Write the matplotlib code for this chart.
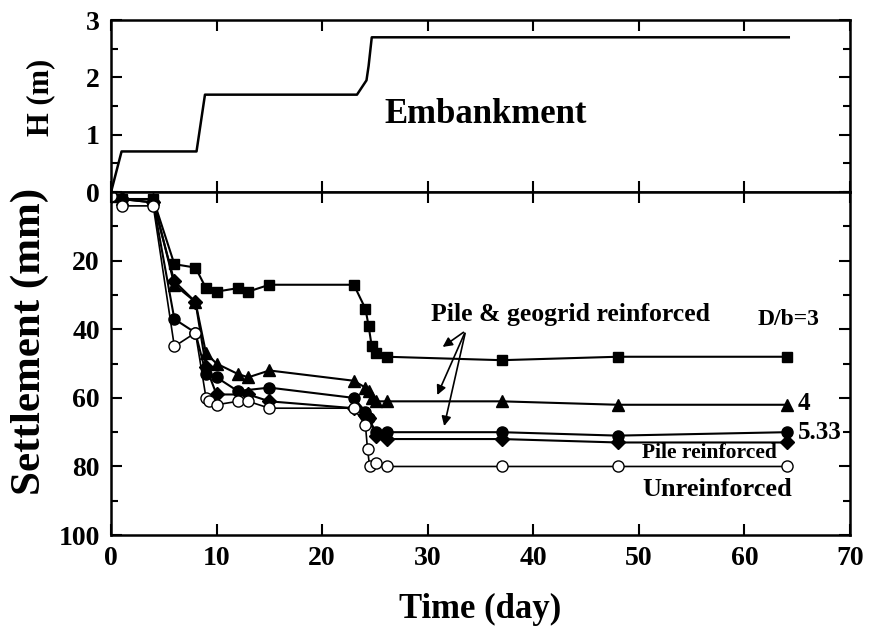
import numpy as np
import matplotlib.pyplot as plt
from matplotlib.ticker import MultipleLocator

plt.rcParams['font.family'] = ['Liberation Serif', 'DejaVu Serif']
plt.rcParams['font.weight'] = 'bold'

# embankment height
t_h = [0, 1, 8.1, 8.9, 23.3, 24.2, 24.4, 24.7, 64.2]
h = [0, 0.71, 0.71, 1.7, 1.7, 1.95, 2.2, 2.7, 2.7]

# settlement, D/b = 3 (squares)
t_sq = [0, 1, 4, 6, 8, 9, 10, 12, 13, 15, 23, 24.1, 24.4, 24.7, 25.1, 26.1, 37, 48, 64]
s_sq = [1, 2, 2, 21, 22, 28, 29, 28, 29, 27, 27, 34, 39, 45, 47, 48, 49, 48, 48]

# D/b = 4 (triangles)
t_tr = [0, 1, 4, 6, 8, 9, 10, 12, 13, 15, 23, 24.1, 24.4, 24.7, 25.1, 26.1, 37, 48, 64]
s_tr = [1, 2, 2, 27, 32, 47, 50, 53, 54, 52, 55, 57, 58, 60, 61, 61, 61, 62, 62]

# D/b = 5.33 (filled circles)
t_ci = [0, 1, 4, 6, 8, 9, 10, 12, 15, 23, 24.1, 24.4, 25.1, 26.1, 37, 48, 64]
s_ci = [1, 2, 3, 37, 41, 53, 54, 58, 57, 60, 64, 66, 70, 70, 70, 71, 70]

# pile reinforced (diamonds)
t_di = [0, 1, 4, 6, 8, 9, 10, 13, 15, 23, 24.1, 24.4, 25.1, 26.1, 37, 48, 64]
s_di = [1, 2, 3, 26, 32, 51, 59, 59, 61, 63, 65, 66, 71, 72, 72, 73, 73]

# unreinforced (open circles)
t_un = [0, 1, 4, 6, 8, 9, 9.3, 10, 12, 13, 15, 23, 24.1, 24.3, 24.5, 25.1, 26.1, 37, 48, 64]
s_un = [1, 4, 4, 45, 41, 60, 61, 62, 61, 61, 63, 63, 68, 75, 80, 79, 80, 80, 80, 80]

fig = plt.figure(figsize=(8.7, 6.28), dpi=100)
ax1 = fig.add_axes([0.1276, 0.694, 0.8494, 0.274])
ax2 = fig.add_axes([0.1276, 0.148, 0.8494, 0.546])

# top panel
ax1.plot(t_h, h, color='black', lw=1.8)
ax1.set_xlim(0, 70)
ax1.set_ylim(0, 3)
ax1.set_yticks([0, 1, 2, 3])
ax1.yaxis.set_minor_locator(MultipleLocator(0.5))
ax1.xaxis.set_major_locator(MultipleLocator(10))
ax1.set_xticklabels([])
ax1.set_ylabel('H (m)', fontsize=22, fontweight='bold')
ax1.yaxis.set_label_coords(-0.076, 0.55)
ax1.text(35.5, 1.35, 'Embankment', fontsize=25, fontweight='bold', ha='center', va='center')

# bottom panel
ax2.plot(t_sq, s_sq, 's-', color='black', ms=7, lw=1.5)
ax2.plot(t_tr, s_tr, '^-', color='black', ms=8, lw=1.5)
ax2.plot(t_ci, s_ci, 'o-', color='black', ms=8, lw=1.5)
ax2.plot(t_di, s_di, 'D-', color='black', ms=7, lw=1.5)
ax2.plot(t_un, s_un, 'o-', color='black', mfc='white', ms=8, lw=1.2)
ax2.set_xlim(0, 70)
ax2.set_ylim(100, 0)
ax2.set_yticks([20, 40, 60, 80, 100])
ax2.yaxis.set_minor_locator(MultipleLocator(10))
ax2.xaxis.set_major_locator(MultipleLocator(10))
ax2.set_xlabel('Time (day)', fontsize=25, fontweight='bold', labelpad=15.5)
ax2.set_ylabel('Settlement (mm)', fontsize=31, fontweight='bold')
ax2.yaxis.set_label_coords(-0.084, 0.565)

for ax in (ax1, ax2):
    ax.tick_params(which='both', direction='in', top=True, right=True, width=1.5)
    ax.tick_params(which='major', length=8, labelsize=20, pad=8)
    ax.tick_params(which='minor', length=5)
    for sp in ax.spines.values():
        sp.set_linewidth(1.8)
    for lab in ax.get_xticklabels() + ax.get_yticklabels():
        lab.set_fontweight('bold')

# annotations
ax2.text(30.3, 35.8, 'Pile & geogrid reinforced', fontsize=18.5, fontweight='bold', va='center')
for xy in [(31.2, 45.6), (30.8, 59.9), (31.5, 69)]:
    ax2.annotate('', xy=xy, xytext=(33.6, 40.4),
                 arrowprops=dict(arrowstyle='-|>', color='black', lw=1.2, mutation_scale=14))
ax2.text(64.2, 37, 'D/b=3', fontsize=17, fontweight='bold', ha='center', va='center')
ax2.text(65.0, 61.6, '4', fontsize=18, fontweight='bold', va='center')
ax2.text(65.1, 70, '5.33', fontsize=18, fontweight='bold', va='center')
ax2.text(56.7, 76.1, 'Pile reinforced', fontsize=15.5, fontweight='bold', ha='center', va='center')
ax2.text(57.4, 86.6, 'Unreinforced', fontsize=19, fontweight='bold', ha='center', va='center')

plt.savefig('out.png', dpi=100)
